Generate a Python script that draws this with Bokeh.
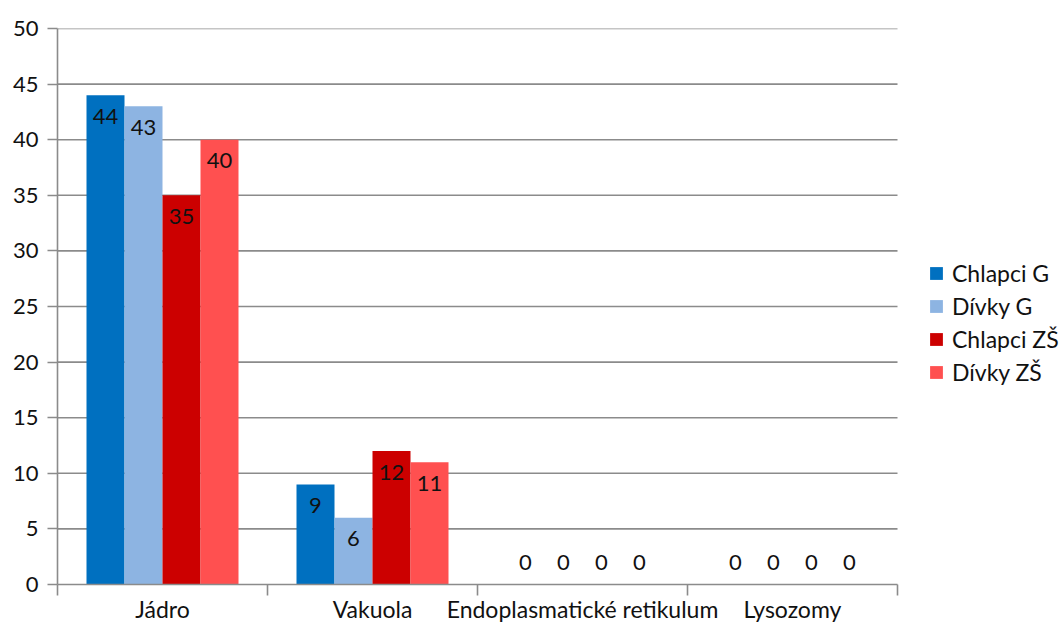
from bokeh.plotting import figure
from bokeh.models import ColumnDataSource, FixedTicker, Range1d, Legend, LegendItem
from bokeh.core.properties import value
from bokeh.embed import file_html
from bokeh.resources import INLINE

# Survey answers per cell organelle and respondent group
categories = ["Jádro", "Vakuola", "Endoplasmatické retikulum", "Lysozomy"]
series = ["Chlapci G", "Dívky G", "Chlapci ZŠ", "Dívky ZŠ"]
chlapci_g = [44, 9, 0, 0]
divky_g = [43, 6, 0, 0]
chlapci_zs = [35, 12, 0, 0]
divky_zs = [40, 11, 0, 0]
y_ticks = [0, 5, 10, 15, 20, 25, 30, 35, 40, 45, 50]

values_by_series = [chlapci_g, divky_g, chlapci_zs, divky_zs]
colors = ["#0070C0", "#8DB4E2", "#CC0000", "#FF5050"]

FONT = "Lato"
GRID = "#8b8b8b"
INK = "#111111"
BAR_W = 38 / 210

# The frame runs to the right edge so the legend can live inside it;
# the bar area itself covers 840 of the 1005 frame pixels.
PLOT_PX, FRAME_PX = 840, 1005
n = len(categories)

p = figure(
    width=1062, height=625,
    output_backend="svg", toolbar_location=None,
    x_range=Range1d(0, n * FRAME_PX / PLOT_PX), y_range=Range1d(0, 50),
    min_border_left=57, min_border_right=0,
    min_border_top=28, min_border_bottom=41,
)
p.outline_line_color = None
p.background_fill_color = "white"
p.border_fill_color = "white"

# horizontal grid lines, limited to the bar area
grid_y = [t for t in y_ticks if t > 0]
p.segment(x0=0, x1=n, y0=grid_y, y1=grid_y,
          line_color=GRID, line_width=1.6, level="underlay")
p.xgrid.grid_line_color = None
p.ygrid.grid_line_color = None

# y axis
p.yaxis.ticker = FixedTicker(ticks=y_ticks)
p.yaxis.axis_line_color = GRID
p.yaxis.axis_line_width = 1.6
p.yaxis.major_tick_line_color = GRID
p.yaxis.major_tick_line_width = 1.6
p.yaxis.major_tick_out = 10
p.yaxis.major_tick_in = 0
p.yaxis.minor_tick_line_color = None
p.yaxis.major_label_standoff = 9
p.yaxis.major_label_text_font = FONT
p.yaxis.major_label_text_font_size = "22px"
p.yaxis.major_label_text_color = INK

# x axis: labels at category centres, tick marks on category boundaries
centres = [i + 0.5 for i in range(n)]
bounds = [float(i) for i in range(n + 1)]
p.xaxis.bounds = (0, n)
p.xaxis.ticker = FixedTicker(ticks=centres, minor_ticks=bounds)
p.xaxis.major_label_overrides = {c: name for c, name in zip(centres, categories)}
p.xaxis.axis_line_color = GRID
p.xaxis.axis_line_width = 1.6
p.xaxis.major_tick_line_color = None
p.xaxis.major_tick_out = 0
p.xaxis.major_tick_in = 0
p.xaxis.minor_tick_line_color = GRID
p.xaxis.minor_tick_line_width = 1.6
p.xaxis.minor_tick_out = 11
p.xaxis.minor_tick_in = 0
p.xaxis.major_label_standoff = -1
p.xaxis.major_label_text_font = FONT
p.xaxis.major_label_text_font_size = "23px"
p.xaxis.major_label_text_color = INK

items = []
for j, (name, vals, color) in enumerate(zip(series, values_by_series, colors)):
    shift = (j - 1.5) * BAR_W
    xs = [c + shift for c in centres]
    src = ColumnDataSource(dict(
        x=xs, top=vals,
        label=[str(v) for v in vals],
        dy=[21 if v > 0 else -22 for v in vals],
    ))
    r = p.vbar(x="x", top="top", bottom=0, width=BAR_W, source=src,
               fill_color=color, line_color=None)
    p.text(x="x", y="top", text="label", y_offset="dy", source=src,
           text_align="center", text_baseline="middle",
           text_font=value(FONT), text_font_size="22px", text_color=INK)
    items.append(LegendItem(label=name, renderers=[r]))

legend = Legend(
    items=items, location=(871, 198),
    glyph_width=16, glyph_height=16, label_height=22, label_standoff=8,
    spacing=5, padding=0, margin=0,
    border_line_color=None, background_fill_alpha=0,
    label_text_font=FONT, label_text_font_size="23px", label_text_color=INK,
)
p.add_layout(legend)

open("out.html", "w").write(file_html(p, INLINE))
